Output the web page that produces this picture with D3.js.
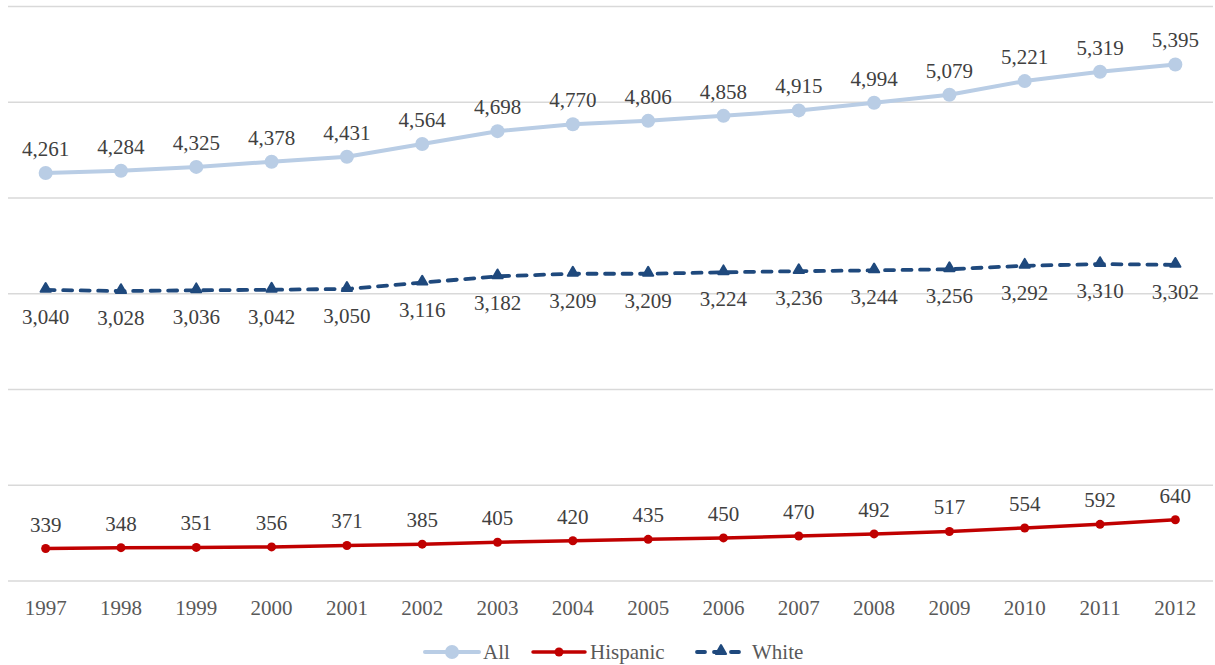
<!DOCTYPE html>
<html>
<head>
<meta charset="utf-8">
<script src="https://cdn.jsdelivr.net/npm/d3@7/dist/d3.min.js"></script>
<style>
  html, body { margin: 0; padding: 0; background: #fff; }
  svg { display: block; }
  text { font-family: "Liberation Serif", "Times New Roman", Times, "Nimbus Roman", "DejaVu Serif", "Noto Serif", serif; }
</style>
</head>
<body>
<svg id="chart" width="1215" height="665"></svg>
<script>
// Years on the category axis
const years = ["1997","1998","1999","2000","2001","2002","2003","2004","2005","2006","2007","2008","2009","2010","2011","2012"];

// Series values
const allValues      = [4261,4284,4325,4378,4431,4564,4698,4770,4806,4858,4915,4994,5079,5221,5319,5395];
const hispanicValues = [339,348,351,356,371,385,405,420,435,450,470,492,517,554,592,640];
const whiteValues    = [3040,3028,3036,3042,3050,3116,3182,3209,3209,3224,3236,3244,3256,3292,3310,3302];

// Value axis gridlines
const yTicks = [0,1000,2000,3000,4000,5000,6000];

const FONT = '"Liberation Serif", "Times New Roman", Times, "Nimbus Roman", "DejaVu Serif", "Noto Serif", serif';

const svg = d3.select("#chart");
const plot = { left: 8, right: 1213, top: 6.5, bottom: 581 };

const x = d3.scaleBand().domain(years).range([plot.left, plot.right]);
const cx = d => x(d) + x.bandwidth() / 2;
const y = d3.scaleLinear().domain([0, 6000]).range([plot.bottom, plot.top]);

// Gridlines
svg.append("g")
  .selectAll("line")
  .data(yTicks)
  .join("line")
  .attr("x1", plot.left).attr("x2", plot.right)
  .attr("y1", d => y(d)).attr("y2", d => y(d))
  .attr("stroke", "#d9d9d9").attr("stroke-width", 1.3);

// Category axis labels
const xAxis = d3.axisBottom(x).tickSize(0).tickPadding(0);
const gx = svg.append("g").attr("transform", `translate(0,${plot.bottom})`).call(xAxis);
gx.select(".domain").remove();
gx.selectAll("text")
  .attr("y", 34).attr("dy", null)
  .attr("font-size", 21)
  .attr("font-family", FONT)
  .attr("fill", "#595959");

const series = [
  { name: "All", values: allValues, color: "#b9cde5", width: 4, dash: null,
    marker: "circle", msize: 7, labelDy: -17 },
  { name: "Hispanic", values: hispanicValues, color: "#c00000", width: 3.5, dash: null,
    marker: "circle", msize: 4.5, labelDy: -17 },
  { name: "White", values: whiteValues, color: "#1f497d", width: 3.8, dash: "9 8.5",
    marker: "triangle", msize: 45, labelDy: 34 }
];

const fmt = d3.format(",");

series.forEach(s => {
  const pts = years.map((yr, i) => ({ yr, v: s.values[i] }));
  const line = d3.line().x(d => cx(d.yr)).y(d => y(d.v));

  svg.append("path")
    .datum(pts)
    .attr("d", line)
    .attr("fill", "none")
    .attr("stroke", s.color)
    .attr("stroke-width", s.width)
    .attr("stroke-linecap", "round")
    .attr("stroke-linejoin", "round")
    .attr("stroke-dasharray", s.dash);

  const g = svg.append("g");
  if (s.marker === "circle") {
    g.selectAll("circle").data(pts).join("circle")
      .attr("cx", d => cx(d.yr)).attr("cy", d => y(d.v))
      .attr("r", s.msize).attr("fill", s.color);
  } else {
    g.selectAll("path").data(pts).join("path")
      .attr("d", d3.symbol().type(d3.symbolTriangle).size(s.msize))
      .attr("transform", d => `translate(${cx(d.yr)},${y(d.v) - 1})`)
      .attr("fill", s.color)
      .attr("stroke", s.color).attr("stroke-width", 2).attr("stroke-linejoin", "round");
  }

  // Data labels
  svg.append("g").selectAll("text").data(pts).join("text")
    .attr("x", d => cx(d.yr))
    .attr("y", d => y(d.v) + s.labelDy)
    .attr("text-anchor", "middle")
    .attr("font-size", 21)
    .attr("font-family", FONT)
    .attr("fill", "#404040")
    .text(d => fmt(d.v));
});

// Legend
const legend = svg.append("g").attr("transform", "translate(0,652)");
const legendItems = [
  { s: series[0], x: 425, lineW: 54, tx: 483 },
  { s: series[1], x: 533, lineW: 52, tx: 590 },
  { s: series[2], x: 697, lineW: 48, tx: 752 }
];
legendItems.forEach(it => {
  const s = it.s;
  legend.append("line")
    .attr("x1", it.x).attr("x2", it.x + it.lineW)
    .attr("y1", 0).attr("y2", 0)
    .attr("stroke", s.color).attr("stroke-width", s.width)
    .attr("stroke-linecap", "round")
    .attr("stroke-dasharray", s.dash ? "8 9" : null);
  const mx = it.x + it.lineW / 2;
  if (s.marker === "circle") {
    legend.append("circle").attr("cx", mx).attr("cy", 0).attr("r", s.msize).attr("fill", s.color);
  } else {
    legend.append("path")
      .attr("d", d3.symbol().type(d3.symbolTriangle).size(s.msize))
      .attr("transform", `translate(${mx},-1)`)
      .attr("fill", s.color).attr("stroke", s.color).attr("stroke-width", 2)
      .attr("stroke-linejoin", "round");
  }
  legend.append("text")
    .attr("x", it.tx).attr("y", 7)
    .attr("font-size", 21)
    .attr("font-family", FONT)
    .attr("fill", "#595959")
    .text(s.name);
});
</script>
</body>
</html>
